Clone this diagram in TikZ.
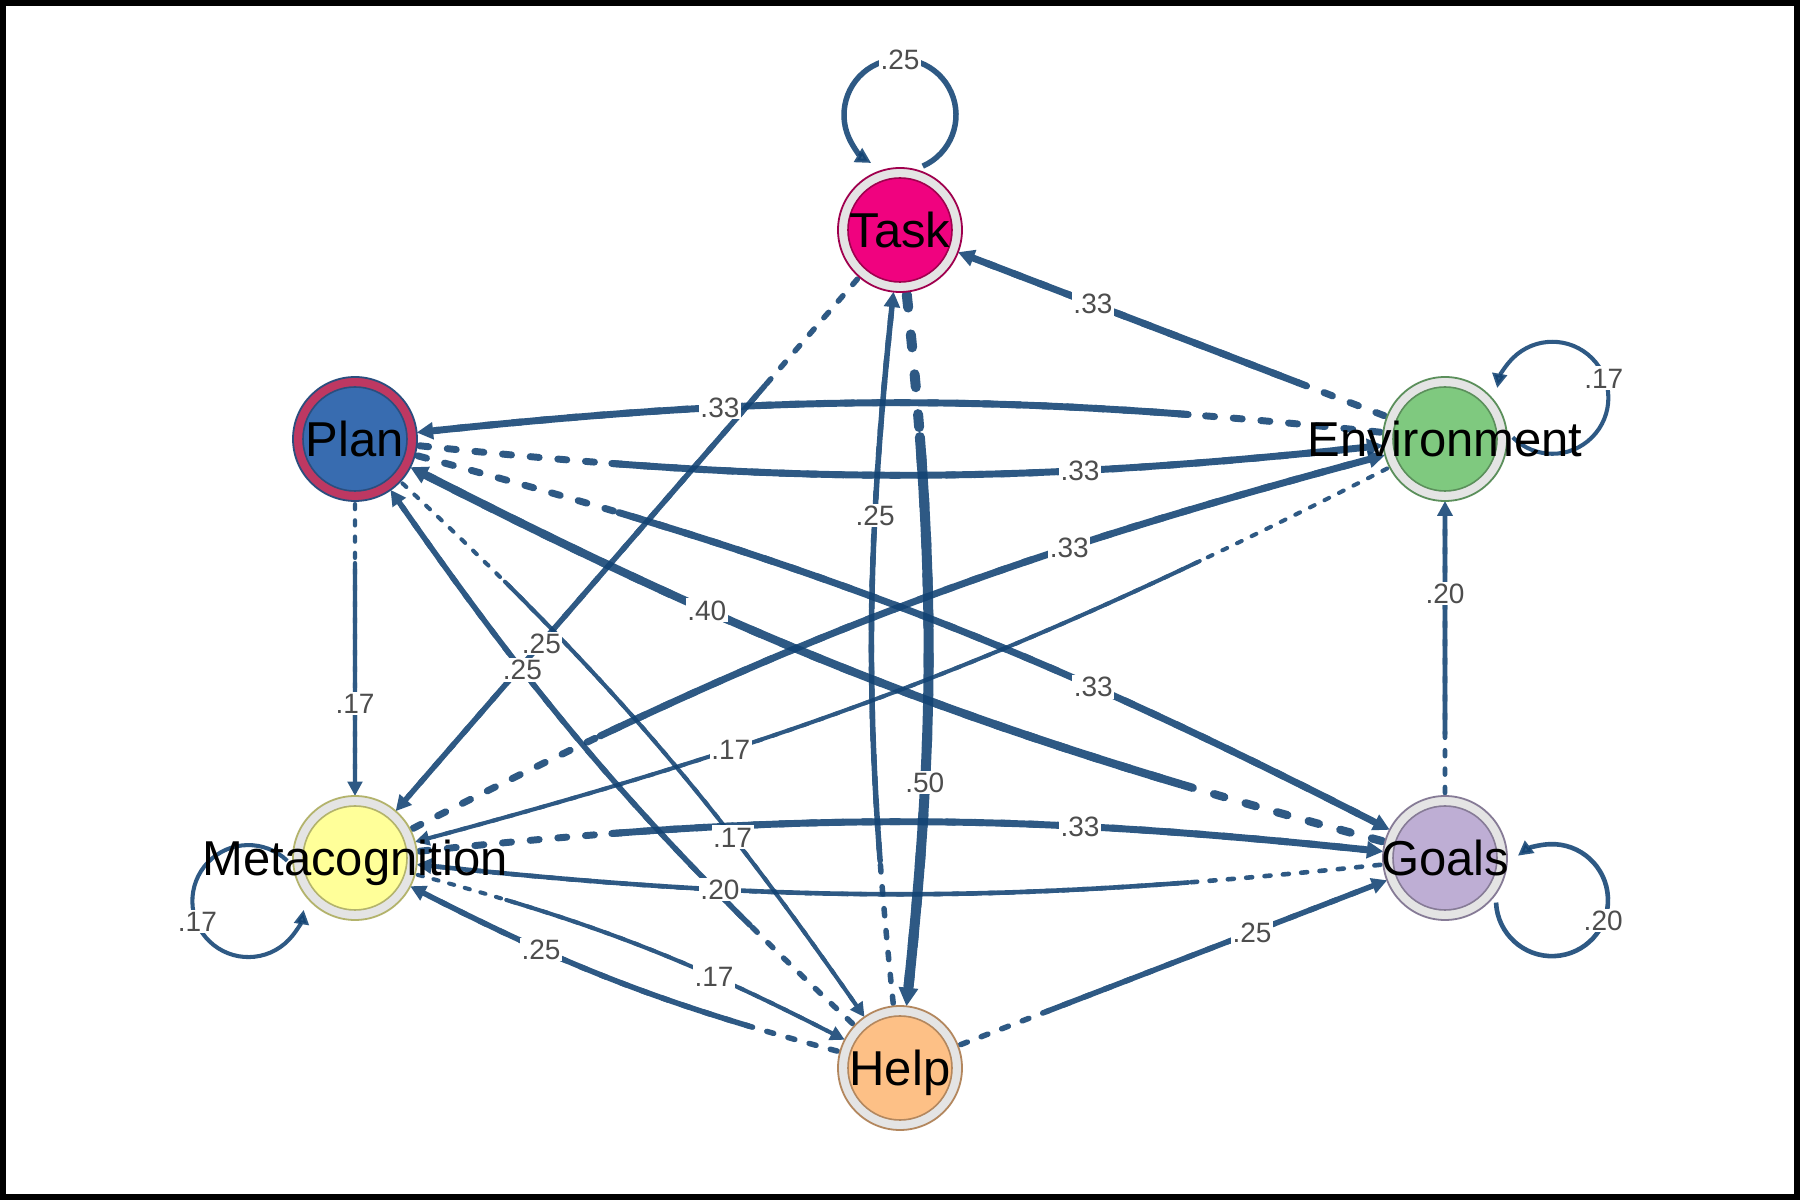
\documentclass[tikz,border=0pt]{standalone}
\usepackage{fontspec}
\newfontfamily\labfont{Liberation Sans}
\usetikzlibrary{arrows.meta}
\definecolor{ecol}{HTML}{124373}
\definecolor{labgray}{HTML}{4D4D4D}
\definecolor{ringc}{HTML}{E4E4E4}
\definecolor{planring}{HTML}{BE3862}
\definecolor{cT}{HTML}{F0027F}\definecolor{bT}{HTML}{A0004E}
\definecolor{cP}{HTML}{386CB0}\definecolor{bP}{HTML}{2A4E7E}
\definecolor{cE}{HTML}{7FC97F}\definecolor{bE}{HTML}{5B8F5B}
\definecolor{cM}{HTML}{FFFF99}\definecolor{bM}{HTML}{B3B36C}
\definecolor{cG}{HTML}{BEAED4}\definecolor{bG}{HTML}{867B96}
\definecolor{cH}{HTML}{FDC086}\definecolor{bH}{HTML}{B3875E}
\tikzset{
 anchornode/.style={circle, minimum size=62pt, inner sep=0pt, outer sep=0pt},
 outerdisc/.style={circle, minimum size=62pt, inner sep=0pt, line width=0.9pt},
 innerdisc/.style={circle, minimum size=52pt, inner sep=0pt, line width=0.8pt},
 nodelabel/.style={font=\labfont\fontsize{24.5}{24.5}\selectfont, text height=17.5pt, text depth=0pt, inner sep=0pt},
 elab/.style={font=\labfont\fontsize{14}{14}\selectfont, text=labgray, fill=white, inner sep=0.8pt, text height=10pt, text depth=0pt},
}
\def\edgelist{E/T/0.33/.33/0/92, T/M/0.25/.25/0/141, H/T/0.25/.25/6/143, T/H/0.50/.50/6/143,
 E/P/0.33/.33/-6/193, P/E/0.33/.33/-6/193, M/E/0.33/.33/6/209, E/M/0.17/.17/6/209,
 P/M/0.17/.17/0/59, G/P/0.40/.40/6/209, P/G/0.33/.33/6/209, H/P/0.25/.25/6/142,
 P/H/0.17/.17/6/142, G/E/0.20/.20/0/59, M/G/0.33/.33/6/193, G/M/0.20/.20/6/193,
 H/M/0.25/.25/6/92, M/H/0.17/.17/6/92, H/G/0.25/.25/0/92}
\def\looplist{T/90/0.25/.25, E/21/0.17/.17, M/202/0.17/.17, G/-21.5/0.20/.20}
\begin{document}
\begin{tikzpicture}[x=0.5pt,y=0.5pt]
\useasboundingbox (0,0) rectangle (1800,1200);
\fill[white] (0,0) rectangle (1800,1200);
\foreach \nn/\xx/\yy in {T/900/970, P/355/761, E/1445/761, M/355/342, G/1445/342, H/900/132}
  \node[anchornode] (\nn) at (\xx,\yy) {};
% edges
\foreach \src/\tgt/\wt/\lbl/\bnd/\dl in \edgelist {
  \pgfmathsetmacro\lw{(1+18*\wt)/2}
  \pgfmathsetmacro\don{1.3*\lw}
  \pgfmathsetmacro\doff{2.7*\lw}
  \pgfmathsetmacro\dd{\dl/2}
  \pgfmathsetmacro\al{5.8+0.35*(1+18*\wt)}
  \begin{scope}[transparency group, opacity=0.88]
   \draw[ecol, line width=\lw pt, line cap=round, dash pattern=on \don pt off \doff pt,
         shorten <=1.5pt, shorten >=10pt] (\src) to[bend left=\bnd] (\tgt);
   \draw[ecol, line width=\lw pt, line cap=round, dash pattern=on 3000pt off \dd pt, dash phase=3000pt,
         shorten <=1.5pt, -{Triangle[length=\al pt, width=\al pt]}] (\src) to[bend left=\bnd] (\tgt);
  \end{scope}
}
% self loops
\foreach \nn/\ph/\wt/\lbl in \looplist {
  \pgfmathsetmacro\lw{(1+18*\wt)/2}
  \pgfmathsetmacro\al{5.8+0.35*(1+18*\wt)}
  \pgfmathsetmacro\sa{\ph+204}
  \pgfmathsetmacro\ea{\ph+509}
  \draw[ecol, opacity=0.88, line width=\lw pt, -{Triangle[length=\al pt, width=\al pt]}]
     (\nn) ++(\ph:115) ++(\sa:56) arc[start angle=\sa, end angle=\ea, radius=56];
}
% edge labels
\foreach \src/\tgt/\wt/\lbl/\bnd/\dl in \edgelist {
  \path (\src) to[bend left=\bnd] node[elab, pos=0.7] {\lbl} (\tgt);
}
\foreach \nn/\ph/\wt/\lbl in \looplist {
  \path (\nn) ++(\ph:170) node[elab] {\lbl};
}
% nodes
\foreach \nn/\cc/\bb/\rr in {T/cT/bT/ringc, P/cP/bP/planring, E/cE/bE/ringc, M/cM/bM/ringc, G/cG/bG/ringc, H/cH/bH/ringc}{
  \node[outerdisc, fill=\rr, draw=\bb] at (\nn) {};
  \node[innerdisc, fill=\cc, draw=\bb] at (\nn) {};
}
\node[nodelabel] (Tl) at (T) {Task};
\node[nodelabel] (Pl) at (P) {Plan};
\node[nodelabel] (El) at (E) {Environment};
\node[nodelabel] (Ml) at (M) {Metacognition};
\node[nodelabel] (Gl) at (G) {Goals};
\node[nodelabel] (Hl) at (H) {Help};
\draw[line width=3pt] (3,3) rectangle (1797,1197);
\end{tikzpicture}
\end{document}
